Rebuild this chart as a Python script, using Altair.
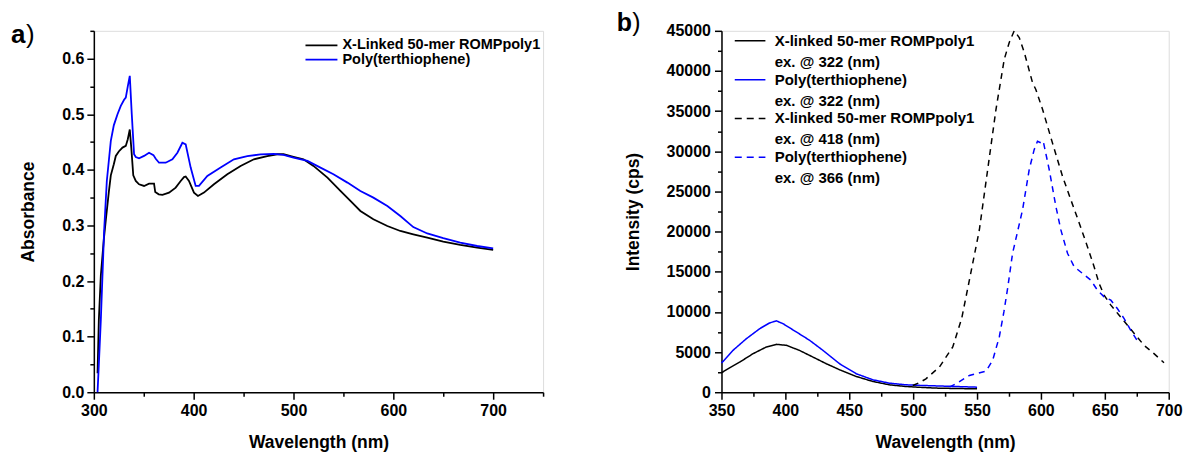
import altair as alt
import pandas as pd

FONT = "Liberation Sans"

# ---------------- Panel a: absorbance ----------------
abs_names = ["X-Linked 50-mer ROMPpoly1", "Poly(terthiophene)"]
abs_colors = ["#000000", "#0000ff"]

abs_xl_wl = [303.7, 305, 307, 310, 312, 315, 317, 320, 322, 325, 328.7, 332, 334, 336, 337.5, 339.5,
             342, 345.3, 350.3, 355.3, 360.3, 361.5, 365, 368.7, 375.3, 382, 387, 390.3, 392, 395.3,
             400.3, 404.3, 410.3, 420.3, 433.7, 447, 460.3, 473.7, 483.7, 490, 500, 510, 520, 534,
             547, 557, 567, 580, 594, 607, 620, 634, 650, 667, 684, 700]
abs_xl_val = [0.034, 0.13, 0.21, 0.275, 0.31, 0.36, 0.39, 0.41, 0.425, 0.433, 0.44, 0.443, 0.455,
              0.4725, 0.44, 0.39, 0.38, 0.374, 0.371, 0.375, 0.375, 0.36, 0.356, 0.355, 0.359, 0.368,
              0.38, 0.387, 0.388, 0.38, 0.359, 0.353, 0.359, 0.374, 0.392, 0.407, 0.419, 0.4247,
              0.428, 0.428, 0.4235, 0.419, 0.407, 0.386, 0.362, 0.344, 0.326, 0.311, 0.299, 0.29,
              0.284, 0.278, 0.271, 0.265, 0.26, 0.256]

abs_pt_wl = [303.7, 305, 307, 310.3, 313, 317, 320, 323.7, 327, 330.3, 332, 334, 336, 338, 340.3,
             342, 345.3, 350.3, 355.3, 359.7, 362, 365.3, 372, 378.7, 383.7, 388.7, 392, 397, 402,
             405.3, 413.7, 427, 440.3, 453.7, 467, 480.3, 490, 500, 514, 527, 540, 554, 567, 580,
             594, 607, 620, 634, 650, 667, 684, 700]
abs_pt_val = [0.0, 0.05, 0.13, 0.29, 0.38, 0.452, 0.48, 0.50, 0.515, 0.526, 0.53, 0.55, 0.569, 0.50,
              0.428, 0.423, 0.4206, 0.425, 0.4307, 0.4265, 0.42, 0.4128, 0.4128, 0.419, 0.4307,
              0.4486, 0.4457, 0.404, 0.371, 0.371, 0.389, 0.404, 0.419, 0.4247, 0.4277, 0.4285,
              0.427, 0.422, 0.416, 0.404, 0.392, 0.377, 0.362, 0.35, 0.335, 0.317, 0.297, 0.2855,
              0.277, 0.269, 0.263, 0.2586]

# ---------------- Panel b: emission ----------------
em_names = ["X-linked 50-mer ROMPpoly1", "Poly(terthiophene)",
            "X-linked 50-mer ROMPpoly1", "Poly(terthiophene)"]
em_ex = ["ex. @ 322 (nm)", "ex. @ 322 (nm)", "ex. @ 418 (nm)", "ex. @ 366 (nm)"]
em_colors = ["#000000", "#0000ff", "#000000", "#0000ff"]
em_dash = [[1, 0], [1, 0], [6, 5], [6, 5]]

em_xl322_wl = [350, 357, 364.3, 374.7, 385, 393, 400.8, 411, 421.6, 432, 442.4, 455.5, 468.4, 481.5,
               494.5, 507.5, 520.5, 535, 550]
em_xl322_val = [2420, 3100, 3750, 4800, 5625, 5960, 5840, 5210, 4375, 3550, 2800, 1960, 1340, 920,
                710, 590, 500, 460, 420]

em_pt322_wl = [350, 359, 369.5, 380, 387.7, 393, 398, 408.6, 419, 429.4, 442.4, 455.5, 468.4, 481.5,
               494.5, 507.5, 525.8, 550]
em_pt322_val = [3625, 5210, 6670, 7920, 8630, 8880, 8550, 7500, 6460, 5210, 3550, 2300, 1550, 1125,
                920, 840, 750, 630]

em_xl418_wl = [499.7, 505, 510, 520.5, 531, 538, 544, 551.8, 558.3, 564.8, 571.3, 575.2, 579.1, 583,
               587, 593.4, 596, 601.3, 609, 616.9, 623.4, 630, 636.4, 641.6, 645.5, 649.4, 654.7,
               661.2, 667.7, 674.2, 680.7, 688.5, 696.3]
em_xl418_val = [840, 1200, 1670, 3130, 5630, 9200, 13960, 20200, 27700, 35200, 41460, 43550, 45000,
                44170, 42300, 38550, 37700, 35200, 31050, 26880, 23960, 21050, 18125, 15625, 13550,
                12090, 10840, 9590, 8340, 7090, 5840, 4800, 3670]

em_pt366_wl = [528.4, 535, 544, 557, 562.2, 567.4, 571, 574, 577.8, 585.6, 590.8, 594.7, 597.3, 600,
               601.8, 606.5, 611.7, 615.6, 620.8, 626, 632.5, 639, 644.2, 649.4, 654.7, 659.8,
               665.1, 670.3, 676.8]
em_pt366_val = [630, 1200, 2090, 2630, 3960, 6880, 10000, 13000, 17300, 22700, 27700, 30200, 31250,
                31050, 31250, 27700, 23125, 20210, 17300, 15625, 14800, 13960, 12710, 11875, 11460,
                10420, 9175, 7710, 6050]

# ---------------- build tables ----------------
abs_rows = []
for name, wl, val in zip(abs_names, [abs_xl_wl, abs_pt_wl], [abs_xl_val, abs_pt_val]):
    for w, v in zip(wl, val):
        abs_rows.append({"series": name, "wl": w, "val": v})
abs_df = pd.DataFrame(abs_rows)

em_keys = [f"{n} {e}" for n, e in zip(em_names, em_ex)]
em_rows = []
for key, wl, val in zip(em_keys,
                        [em_xl322_wl, em_pt322_wl, em_xl418_wl, em_pt366_wl],
                        [em_xl322_val, em_pt322_val, em_xl418_val, em_pt366_val]):
    for w, v in zip(wl, val):
        em_rows.append({"series": key, "wl": w, "val": v})
em_df = pd.DataFrame(em_rows)

W1, W2, H = 450, 448, 362


def axis(values, major, fmt, title, tx, ty, lpad):
    return alt.Axis(
        values=values, format=fmt,
        labelExpr=f"({major}) ? datum.label : ''",
        tickSize={"condition": {"test": major, "value": 7}, "value": 4},
        title=title, titleX=tx, titleY=ty, titleBaseline="alphabetic",
        grid=False, domainColor="black", tickColor="black", labelColor="black",
        titleColor="black", domainWidth=1.5, tickWidth=1.5,
        labelFont=FONT, labelFontSize=16, labelFontWeight="bold",
        titleFont=FONT, titleFontSize=17.5, titleFontWeight="bold",
        labelPadding=lpad, labelOverlap=False, labelFlush=False,
    )


def text_layer(txt, x, y, size, weight, align="left", baseline="alphabetic"):
    return alt.Chart(pd.DataFrame({"t": [txt]})).mark_text(
        font=FONT, fontSize=size, fontWeight=weight, color="black",
        align=align, baseline=baseline
    ).encode(x=alt.value(x), y=alt.value(y), text="t:N")


def rule_layer(x1, x2, y, color, dash, width):
    return alt.Chart(pd.DataFrame({"k": [0]})).mark_rule(
        color=color, strokeWidth=width, strokeDash=dash
    ).encode(x=alt.value(x1), x2=alt.value(x2), y=alt.value(y))


# ---------------- panel a ----------------
xa_vals = list(range(300, 751, 50))
ya_vals = [round(i * 0.05, 2) for i in range(14)]

lines_a = alt.Chart(abs_df).mark_line(strokeWidth=1.8).encode(
    x=alt.X("wl:Q", scale=alt.Scale(domain=[300, 750], nice=False, zero=False),
            axis=axis(xa_vals, "datum.value % 100 === 0 && datum.value <= 700", "d",
                      "Wavelength (nm)", W1 / 2, 55, 3)),
    y=alt.Y("val:Q", scale=alt.Scale(domain=[0, 0.65], nice=False),
            axis=axis(ya_vals, "abs(datum.value * 10 - round(datum.value * 10)) < 0.001", ".1f",
                      "Absorbance", -60, H / 2, 3)),
    color=alt.Color("series:N", scale=alt.Scale(domain=abs_names, range=abs_colors), legend=None),
)

layers_a = [lines_a,
            text_layer("a", -83, 12.5, 26, "bold"),
            text_layer(")", -68, 12.5, 26, "normal")]
leg_a_y = [14.5, 28.8]
for name, col, yy in zip(abs_names, abs_colors, leg_a_y):
    layers_a.append(rule_layer(212, 244, yy, col, [1, 0], 1.8))
    layers_a.append(text_layer(name, 249, yy, 14.5, "bold", baseline="middle"))

panel_a = alt.layer(*layers_a).properties(width=W1, height=H)

# ---------------- panel b ----------------
xb_vals = list(range(350, 701, 25))
yb_vals = list(range(0, 45001, 2500))

lines_b = alt.Chart(em_df).mark_line(strokeWidth=1.5).encode(
    x=alt.X("wl:Q", scale=alt.Scale(domain=[350, 700], nice=False, zero=False),
            axis=axis(xb_vals, "datum.value % 50 === 0", "d",
                      "Wavelength (nm)", W2 / 2, 55, 3)),
    y=alt.Y("val:Q", scale=alt.Scale(domain=[0, 45000], nice=False),
            axis=axis(yb_vals, "datum.value % 5000 === 0", "d",
                      "Intensity (cps)", -83, H / 2, 4)),
    color=alt.Color("series:N", scale=alt.Scale(domain=em_keys, range=em_colors), legend=None),
    strokeDash=alt.StrokeDash("series:N", scale=alt.Scale(domain=em_keys, range=em_dash), legend=None),
)

layers_b = [lines_b,
            text_layer("b", -105, 0.5, 25, "bold"),
            text_layer(")", -89.5, 0.5, 25, "normal")]
for i, (name, ex, col, dash) in enumerate(zip(em_names, em_ex, em_colors, em_dash)):
    y0 = 10 + i * 38.9
    leg_dash = [1, 0] if dash == [1, 0] else [7, 5]
    layers_b.append(rule_layer(13.3, 44, y0, col, leg_dash, 1.5))
    layers_b.append(text_layer(name, 53.3, y0, 15, "bold", baseline="middle"))
    layers_b.append(text_layer(ex, 53.3, y0 + 21, 15, "bold", baseline="middle"))

panel_b = alt.layer(*layers_b).properties(width=W2, height=H)

chart = alt.hconcat(panel_a, panel_b, spacing=178.7, bounds="flush").properties(
    padding={"left": 10, "top": 10.5, "right": 0, "bottom": 0}
).configure_view(stroke=None).configure(background="white")

chart.save("out.html", embed_options={"renderer": "svg", "actions": False})
